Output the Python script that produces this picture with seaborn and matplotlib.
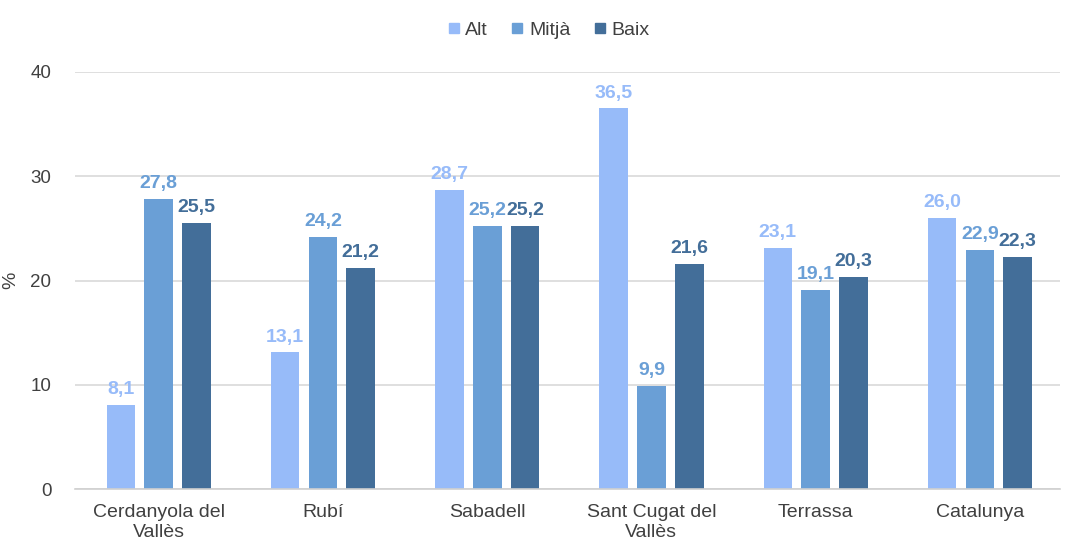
import pandas as pd
import numpy as np
import matplotlib.pyplot as plt
import seaborn as sns

municipis = ['Cerdanyola del\nVallès', 'Rubí', 'Sabadell', 'Sant Cugat del\nVallès', 'Terrassa', 'Catalunya']
nivells = ['Alt', 'Mitjà', 'Baix']
alt = [8.1, 13.1, 28.7, 36.5, 23.1, 26.0]
mitja = [27.8, 24.2, 25.2, 9.9, 19.1, 22.9]
baix = [25.5, 21.2, 25.2, 21.6, 20.3, 22.3]
colors = ['#97bbf9', '#6a9fd6', '#436e99']

df = pd.DataFrame({
    'municipi': municipis * 3,
    'nivell': [n for n in nivells for _ in municipis],
    'valor': alt + mitja + baix,
})

sns.set_style('white')
plt.rcParams['font.family'] = ['Liberation Sans', 'DejaVu Sans']

fig = plt.figure(figsize=(10.7, 5.41), dpi=100)
ax = fig.add_axes([0.070, 0.096, 0.921, 0.771])

sns.barplot(data=df, x='municipi', y='valor', hue='nivell', palette=colors,
            saturation=1, width=0.69, gap=0.24, linewidth=0, ax=ax, legend=False)

for cont, col in zip(ax.containers, colors):
    ax.bar_label(cont, labels=[f'{v:.1f}'.replace('.', ',') for v in cont.datavalues],
                 padding=5, color=col, fontsize=14, fontweight='bold')

ax.set_ylim(0, 40)
ax.set_xlim(-0.51, 5.49)
ax.set_yticks([0, 10, 20, 30, 40])
ax.yaxis.grid(True, color='#d9d9d9', linewidth=1.2)
ax.set_axisbelow(True)
for s in ['top', 'right', 'left']:
    ax.spines[s].set_visible(False)
ax.spines['bottom'].set_color('#d0d0d0')
ax.spines['bottom'].set_linewidth(1.2)
ax.tick_params(axis='y', length=6, color='#d9d9d9', labelsize=13.5, labelcolor='#404040', pad=11)
ax.tick_params(axis='x', length=0, labelsize=14, labelcolor='#404040', pad=11)
for lbl in ax.get_xticklabels():
    lbl.set_linespacing(1.2)
ax.set_xlabel('')
ax.set_ylabel('%', fontsize=14, color='#404040', labelpad=8)

handles = [plt.Line2D([], [], marker='s', linestyle='', markersize=6.5, color=c) for c in colors]
fig.legend(handles, nivells, loc='upper center', bbox_to_anchor=(0.51, 0.993), ncol=3,
           frameon=False, fontsize=14, handletextpad=0.0, columnspacing=0.9,
           handlelength=1.2, labelcolor='#404040')

fig.savefig('out.png', dpi=100)
